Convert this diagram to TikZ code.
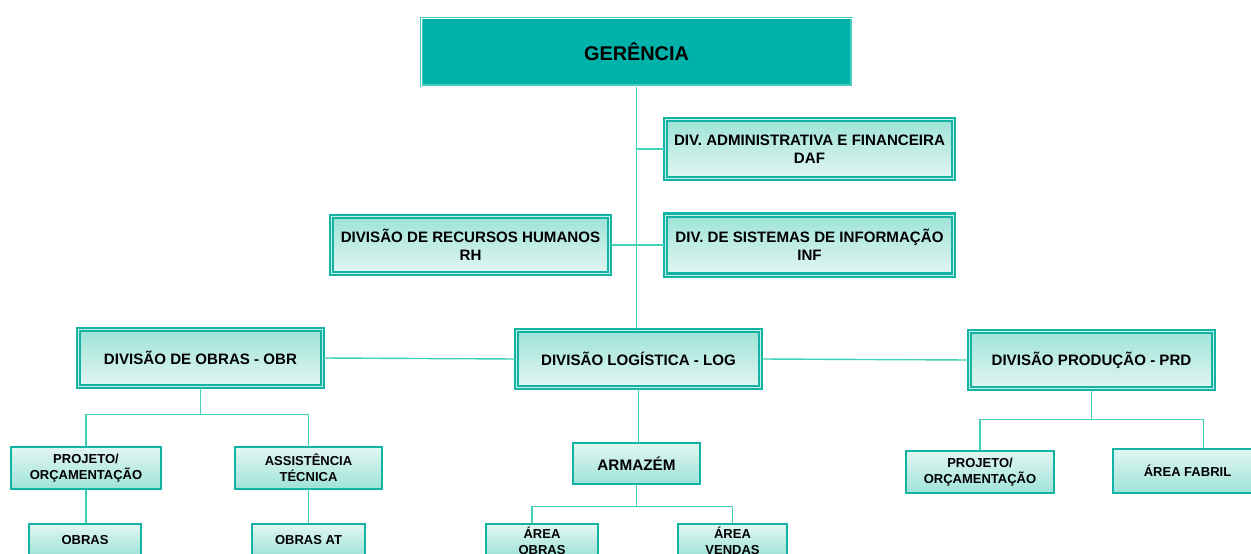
\documentclass[tikz,border=0pt]{standalone}
\usepackage{fontspec}
\setmainfont{Liberation Sans}
\definecolor{gerteal}{RGB}{0,178,169}
\definecolor{gerline}{RGB}{70,205,188}
\definecolor{boxteal}{RGB}{20,180,164}
\definecolor{boxgap}{RGB}{200,238,232}
\definecolor{linkteal}{RGB}{64,210,182}
\definecolor{filldark}{RGB}{158,227,216}
\definecolor{filllight}{RGB}{226,246,242}

\begin{document}
\begin{tikzpicture}[x=0.02cm,y=-0.02cm]
    % Setup the styles for the boxes
        \tikzset{top box/.style={draw=gerline,
                                 double=white,
                                 line width=0.6pt,
                                 double distance=0.5pt,
                                 fill=gerteal,
                                 font=\fontsize{11.3}{13}\selectfont\bfseries},
                 div box/.style={draw=boxteal,
                                 double=boxgap,
                                 line width=1.2pt,
                                 double distance=0.5pt,
                                 top color=filldark,
                                 bottom color=filllight,
                                 align=center,
                                 font=\fontsize{8.6}{10.2}\selectfont\bfseries},
                 sub box/.style={draw=boxteal,
                                 line width=1.6pt,
                                 top color=filllight,
                                 bottom color=filldark,
                                 align=center,
                                 font=\fontsize{7.4}{9}\selectfont\bfseries},
                 link/.style={draw=linkteal, line width=0.8pt}}
        \useasboundingbox (0,0) rectangle (1251,554);
        \clip (0,0) rectangle (1251,554);
        % Draw the boxes
        \node[top box, minimum width=8.62cm, minimum height=1.36cm] at (636.5,52) (ger) {GERÊNCIA};
        \node[div box, minimum width=5.76cm, minimum height=1.18cm] at (809.5,149) (daf) {DIV. ADMINISTRATIVA E FINANCEIRA\\DAF};
        \node[div box, minimum width=5.56cm, minimum height=1.14cm] at (470.5,245) (rh) {DIVISÃO DE RECURSOS HUMANOS\\RH};
        \node[div box, minimum width=5.76cm, minimum height=1.2cm] at (809.5,245) (inf) {DIV. DE SISTEMAS DE INFORMAÇÃO\\INF};
        \node[div box, minimum width=4.88cm, minimum height=1.14cm] at (200.5,358) (obr) {DIVISÃO DE OBRAS - OBR};
        \node[div box, minimum width=4.88cm, minimum height=1.14cm] at (638.5,359) (log) {DIVISÃO LOGÍSTICA - LOG};
        \node[div box, minimum width=4.88cm, minimum height=1.14cm] at (1091.5,360) (prd) {DIVISÃO PRODUÇÃO - PRD};
        \node[sub box, minimum width=3.0cm, minimum height=0.84cm] at (86,468) (proj1) {PROJETO/\\ORÇAMENTAÇÃO};
        \node[sub box, minimum width=2.94cm, minimum height=0.84cm] at (308.5,468) (assist) {ASSISTÊNCIA\\TÉCNICA};
        \node[sub box, minimum width=2.24cm, minimum height=0.66cm] at (85,540.5) (obras) {OBRAS};
        \node[sub box, minimum width=2.26cm, minimum height=0.66cm] at (308.5,540.5) (obrasat) {OBRAS AT};
        \node[sub box, minimum width=2.54cm, minimum height=0.82cm, font=\fontsize{8.7}{10}\selectfont\bfseries] at (636.5,463.5) (armazem) {ARMAZÉM};
        \node[sub box, inner ysep=0.5pt, minimum width=2.24cm, minimum height=0.66cm] at (542,540.5) (areaobras) {ÁREA\\OBRAS};
        \node[sub box, inner ysep=0.5pt, minimum width=2.18cm, minimum height=0.66cm] at (732.5,540.5) (areavendas) {ÁREA\\VENDAS};
        \node[sub box, minimum width=2.96cm, minimum height=0.84cm] at (980,472) (proj2) {PROJETO/\\ORÇAMENTAÇÃO};
        \node[sub box, minimum width=2.98cm, minimum height=0.88cm] at (1187.5,471) (fabril) {ÁREA FABRIL};
        % Connect the boxes
        \draw[link] (ger.south) -- (ger.south |- log.north);
        \draw[link] (ger.south |- daf.west) -- (daf.west);
        \draw[link] (rh.east) -- (inf.west);
        \draw[link] (obr.east) -- (log.west);
        \draw[link] (log.east) -- (prd.west);
        \draw[link] (log.south) -- (log.south |- armazem.north);
        \draw[link] (obr.south) -- ++(0,27) -| (proj1.north);
        \draw[link] (obr.south) -- ++(0,27) -| (assist.north);
        \draw[link] (proj1.south) -- (proj1.south |- obras.north);
        \draw[link] (assist.south) -- (assist.south |- obrasat.north);
        \draw[link] (armazem.south) -- ++(0,21) -| ([xshift=-0.2cm]areaobras.north);
        \draw[link] (armazem.south) -- ++(0,21) -| (areavendas.north);
        \draw[link] (prd.south) -- ++(0,30) -| (proj2.north);
        \draw[link] (prd.south) -- ++(0,30) -| ([xshift=0.32cm]fabril.north);
\end{tikzpicture}
\end{document}
